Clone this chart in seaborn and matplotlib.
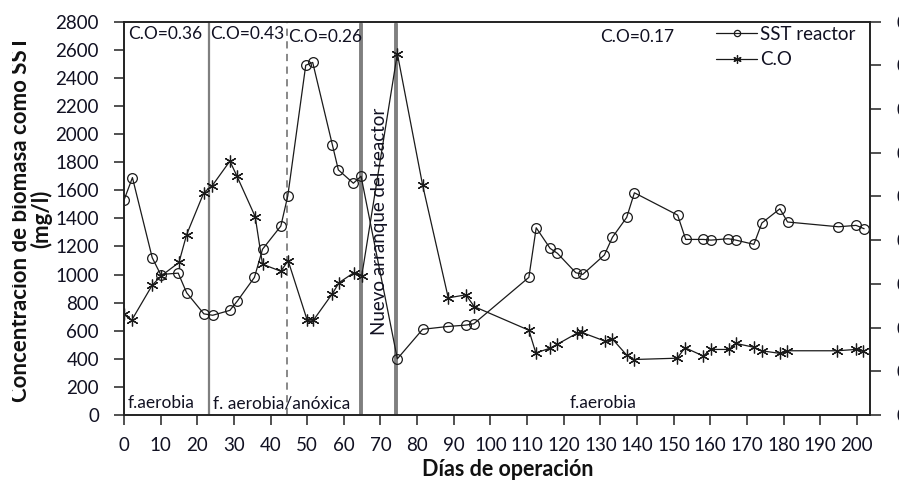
import numpy as np
import pandas as pd
import matplotlib
matplotlib.use("Agg")
import matplotlib.pyplot as plt
from matplotlib.lines import Line2D
from matplotlib.transforms import Bbox
import seaborn as sns

# ---------------- data ----------------
sst_days = [0, 2.3, 7.7, 10, 14.8, 17.1, 21.8, 24.2, 28.9, 30.9, 35.6, 37.8, 42.8, 44.7,
            49.6, 51.5, 56.9, 58.5, 62.6, 64.7,
            74.6, 81.5, 88.3, 93.3, 95.5, 110.5, 112.5, 116.3, 118.3, 123.3, 125.2,
            131.1, 133.3, 137.2, 139.3, 151.1, 153.3, 158.1, 160.2, 164.9, 167.0,
            171.9, 174.1, 179.0, 181.1, 195.0, 199.8, 202.0]
sst_values = [1530, 1690, 1120, 1000, 1010, 870, 720, 710, 745, 810, 980, 1180, 1345, 1560,
              2490, 2510, 1920, 1745, 1650, 1700,
              400, 610, 630, 640, 650, 980, 1333, 1186, 1151, 1013, 1001,
              1139, 1265, 1407, 1582, 1423, 1250, 1250, 1245, 1255, 1245,
              1215, 1367, 1468, 1374, 1340, 1350, 1326]

co_days = [0, 2.1, 7.7, 10.1, 15, 17.1, 21.8, 24.1, 28.9, 30.8, 35.8, 37.8, 42.8, 44.8,
           50, 51.7, 56.9, 58.7, 62.8, 64.9,
           74.6, 81.5, 88.5, 93.3, 95.6, 110.5, 112.4, 116.3, 118.3, 123.6, 124.9,
           131.3, 133.3, 137.2, 139.2, 151.0, 153.1, 158.1, 160.1, 165.2, 166.9,
           171.9, 174.0, 179.0, 181.0, 194.7, 199.7, 201.8]
co_values = [0.230, 0.217, 0.297, 0.318, 0.349, 0.413, 0.509, 0.525, 0.581, 0.547, 0.454,
             0.345, 0.329, 0.353, 0.217, 0.217, 0.278, 0.303, 0.326, 0.319,
             0.827, 0.526, 0.268, 0.275, 0.248, 0.194, 0.142, 0.153, 0.162, 0.187, 0.189,
             0.169, 0.174, 0.137, 0.127, 0.130, 0.154, 0.135, 0.150, 0.150, 0.164,
             0.155, 0.147, 0.141, 0.147, 0.147, 0.150, 0.147]

phase_lines = [23.2, 44.4, 64.7, 74.2]
co_labels = ["C.O=0.36", "C.O=0.43", "C.O=0.26", "C.O=0.17"]
co_label_x = [1.1, 23.5, 44.8, 129.9]
phase_labels = ["f.aerobia", "f. aerobia/anóxica", "f.aerobia"]
phase_label_x = [0.9, 24.2, 121.5]
restart_label = "Nuevo arranque del reactor"

left_ticks = list(range(0, 2801, 200))
x_ticks = list(range(0, 201, 10))
right_ticks = [0, 0.1, 0.2, 0.3, 0.4, 0.5, 0.6, 0.7, 0.8, 0.9]

# ---------------- style ----------------
sns.set_theme(style="white")
plt.rcParams['font.family'] = ['Lato', 'DejaVu Sans']
TXT = "#111122"

W, H = 899, 484
fig = plt.figure(figsize=(W / 100, H / 100), dpi=100)
L, R, T, B = 124, 870, 21.7, 415
ax = fig.add_axes([L / W, 1 - B / H, (R - L) / W, (B - T) / H])
ax2 = ax.twinx()

df_sst = pd.DataFrame({"dia": sst_days, "sst": sst_values})
df_co = pd.DataFrame({"dia": co_days, "co": co_values})

line_col = "#1a1a1a"
sns.lineplot(data=df_sst, x="dia", y="sst", ax=ax, color=line_col, lw=0.9,
             marker="o", markersize=7, markerfacecolor="none",
             markeredgecolor=line_col, markeredgewidth=0.9, sort=False)
sns.lineplot(data=df_co, x="dia", y="co", ax=ax2, color=line_col, lw=0.9,
             marker=(6, 2, 0), markersize=8.5, markeredgecolor=line_col,
             markeredgewidth=0.9, sort=False)

# phase separator lines
styles = [dict(color="#7f7f7f", lw=1.6, ls="-"),
          dict(color="#7f7f7f", lw=1.3, ls=(0, (4, 3))),
          dict(color="#7f7f7f", lw=2.8, ls="-"),
          dict(color="#7f7f7f", lw=2.8, ls="-")]
for xv, st in zip(phase_lines, styles):
    ax.axvline(xv, ymin=0, ymax=0.995 if st["lw"] > 2 else 1, zorder=1, **st)

ax.set_xlim(0, 203.6)
ax.set_ylim(0, 2800)
ax2.set_ylim(0, 0.9)
ax.set_xticks(x_ticks)
ax.set_xticklabels([str(t) for t in x_ticks])
ax.set_yticks(left_ticks)
ax.set_yticklabels([str(t) for t in left_ticks])
ax2.set_yticks(right_ticks)
ax2.set_yticklabels(["0" if t == 0 else f"{t:.1f}" for t in right_ticks])

for a in (ax, ax2):
    for s in a.spines.values():
        s.set_color("#222222")
        s.set_linewidth(1.2)
ax.tick_params(axis="both", direction="out", length=7, width=1.1, color="#222222",
               labelsize=13.5, labelcolor=TXT, left=True, bottom=True)
ax.tick_params(axis="y", pad=11)
ax.tick_params(axis="x", pad=9)
ax2.tick_params(axis="y", direction="out", length=8, width=1.1, color="#222222",
                labelsize=13.5, labelcolor=TXT, right=True, pad=11)

ax.set_xlabel("")
ax.set_ylabel("")
ax2.set_ylabel("")
ax.grid(False)
ax2.grid(False)

# annotations
for txt, xv in zip(co_labels, co_label_x):
    ax.text(xv, 2712 if xv < 40 else 2692, txt, fontsize=12.5, color=TXT,
            ha="left", va="center", zorder=5)
for txt, xv in zip(phase_labels, phase_label_x):
    ax.text(xv, 85, txt, fontsize=12.5, color=TXT, ha="left", va="center", zorder=5)
ax.text(69.8, 1380, restart_label, fontsize=13.5, color=TXT, rotation=90,
        ha="center", va="center", zorder=5)

# axis titles
fig.text(508 / W, 1 - 470 / H, "Días de operación", fontsize=15.5, fontweight="bold",
         color="#111111", ha="center", va="center")
yl = fig.text(31 / W, 1 - 219 / H, "Concentracion de biomasa como SST\n(mg/l)",
              fontsize=16, fontweight="bold", color="#111111", rotation=90,
              ha="center", va="center", linespacing=0.95, multialignment="center")
yl.set_clip_on(True)
yl.set_clip_box(Bbox.from_extents(12, 0, W, H))

# legend
handles = [Line2D([], [], color=line_col, lw=0.9, marker="o", markersize=4.5,
                  markerfacecolor="none", markeredgecolor=line_col, markeredgewidth=0.9),
           Line2D([], [], color=line_col, lw=0.9, marker=(6, 2, 0), markersize=6,
                  markeredgecolor=line_col, markeredgewidth=0.9)]
fig.legend(handles, ["SST reactor", "C.O"], loc="upper left",
           bbox_to_anchor=(716 / W, 1 - 26 / H), frameon=False, fontsize=13.5,
           handlelength=2.2, handletextpad=0.15, borderpad=0, borderaxespad=0,
           labelspacing=0.45, labelcolor=TXT)

fig.savefig("out.png", dpi=100)
